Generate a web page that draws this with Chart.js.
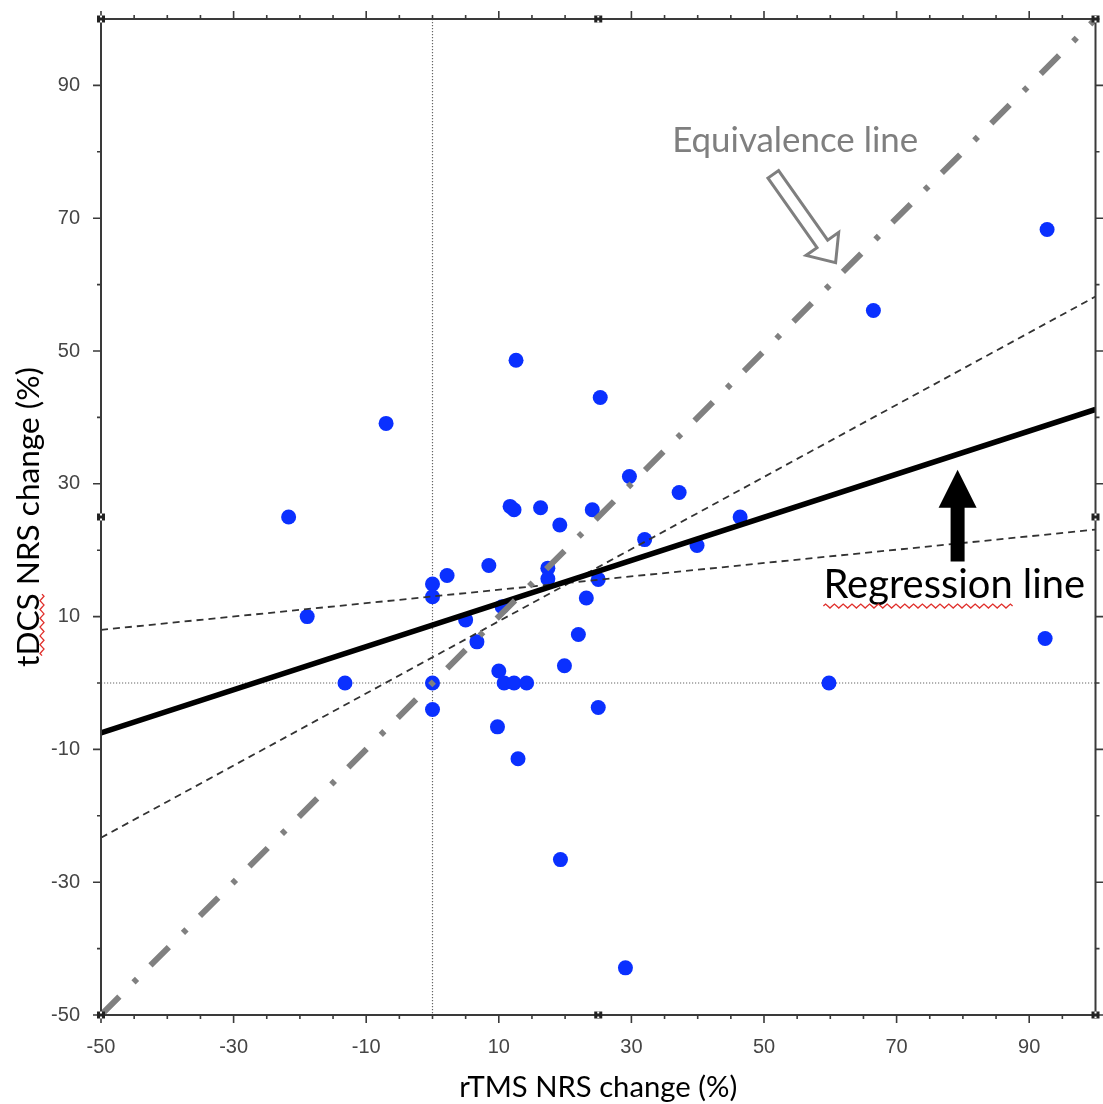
<!DOCTYPE html>
<html>
<head>
<meta charset="utf-8">
<script src="https://cdn.jsdelivr.net/npm/chart.js@4.4.1/dist/chart.umd.min.js"></script>
<style>
  html, body { margin: 0; padding: 0; background: #fff; }
  #wrap { width: 1103px; height: 1104px; }
</style>
</head>
<body>
<div id="wrap"><canvas id="chart"></canvas></div>
<script>
// per-patient NRS change (%)
const rtmsChange = [92.7, 66.5, 12.6, 25.3, -7.0, 29.7, 37.2, 11.7, 12.3, 16.3, 24.1, 19.2,
    -21.7, 46.4, 32.0, 39.9, 8.5, 17.4, 17.4, 25.0, 2.2, 0, 0, 23.2, -18.9, 10.5, 5.0,
    6.7, 22.0, 19.9, 10.0, 10.8, 12.3, 14.2, 0, -13.2, 59.8, 0, 25.0, 9.8, 12.9, 19.3,
    29.1, 92.4];
const tdcsChange = [68.3, 56.1, 48.6, 43.0, 39.1, 31.1, 28.7, 26.6, 26.1, 26.4, 26.1, 23.8,
    25.0, 25.0, 21.6, 20.7, 17.7, 17.3, 15.7, 15.6, 16.2, 14.9, 13.0, 12.8, 10.0, 11.5, 9.5,
    6.2, 7.3, 2.6, 1.8, 0, 0, 0, 0, 0, 0, -4.0, -3.7, -6.6, -11.4, -26.6,
    -42.9, 6.7];

const xTickLabels = [-50, -30, -10, 10, 30, 50, 70, 90];
const yTickLabels = [-50, -30, -10, 10, 30, 50, 70, 90];

// reference lines, end points at the plot edges
const lineX = [-50, 100];
const equivalenceY = [-50, 100];
const regressionY = [-7.5, 41.2];
const bandFlatY = [8.0, 23.1];
const bandSteepY = [-23.3, 58.2];

const titleFont = 'Lato, "Open Sans", sans-serif';
const tickFont = '"Liberation Sans", Arial, sans-serif';

function fitSize(text, width, family) {
    const c = document.createElement('canvas').getContext('2d');
    c.font = `100px ${family}`;
    return 100 * width / c.measureText(text).width;
}

const xTitle = 'rTMS NRS change (%)';
const yTitle = 'tDCS NRS change (%)';
const xTitleSize = fitSize(xTitle, 278, titleFont);
const yTitleSize = fitSize(yTitle, 300, titleFont);

function toPoints(xs, ys) {
    return xs.map((v, i) => ({ x: v, y: ys[i] }));
}

function lineSet(ys, color, width, dash, order) {
    return {
        data: toPoints(lineX, ys),
        showLine: true,
        borderColor: color,
        borderWidth: width,
        borderDash: dash,
        borderCapStyle: 'butt',
        pointRadius: 0,
        order: order
    };
}

function arrowPath(ctx, tail, tip, shaftHalf, headHalf, headLen) {
    const dx = tip.x - tail.x, dy = tip.y - tail.y;
    const len = Math.hypot(dx, dy);
    const ux = dx / len, uy = dy / len;
    const nx = -uy, ny = ux;
    const bx = tip.x - ux * headLen, by = tip.y - uy * headLen;
    ctx.beginPath();
    ctx.moveTo(tail.x + nx * shaftHalf, tail.y + ny * shaftHalf);
    ctx.lineTo(bx + nx * shaftHalf, by + ny * shaftHalf);
    ctx.lineTo(bx + nx * headHalf, by + ny * headHalf);
    ctx.lineTo(tip.x, tip.y);
    ctx.lineTo(bx - nx * headHalf, by - ny * headHalf);
    ctx.lineTo(bx - nx * shaftHalf, by - ny * shaftHalf);
    ctx.lineTo(tail.x - nx * shaftHalf, tail.y - ny * shaftHalf);
    ctx.closePath();
}

// spell-check squiggle
function squiggle(ctx, x1, y1, x2, y2) {
    const len = Math.hypot(x2 - x1, y2 - y1);
    const ux = (x2 - x1) / len, uy = (y2 - y1) / len;
    ctx.save();
    ctx.strokeStyle = '#e0302c';
    ctx.lineWidth = 1.3;
    ctx.beginPath();
    const step = 2.2;
    for (let s = 0, i = 0; s <= len; s += step, i++) {
        const off = (i % 4 === 1) ? -2 : (i % 4 === 3 ? 2 : 0);
        const px = x1 + ux * s - uy * off, py = y1 + uy * s + ux * off;
        if (i === 0) ctx.moveTo(px, py); else ctx.lineTo(px, py);
    }
    ctx.stroke();
    ctx.restore();
}

const decorations = {
    id: 'decorations',
    beforeDatasetsDraw(chart) {
        const { ctx, chartArea: a, scales: { x, y } } = chart;
        const x0 = x.getPixelForValue(0), y0 = y.getPixelForValue(0);
        ctx.save();
        ctx.strokeStyle = '#666';
        ctx.lineWidth = 1.2;
        ctx.setLineDash([1.2, 1.8]);
        ctx.beginPath();
        ctx.moveTo(x0, a.top); ctx.lineTo(x0, a.bottom);
        ctx.moveTo(a.left, y0); ctx.lineTo(a.right, y0);
        ctx.stroke();
        ctx.restore();
    },
    afterDraw(chart) {
        const { ctx, chartArea: a, scales: { x, y } } = chart;
        ctx.save();

        // frame
        ctx.strokeStyle = '#3a3a3a';
        ctx.lineWidth = 2;
        ctx.strokeRect(a.left, a.top, a.right - a.left, a.bottom - a.top);

        // tick marks on all four sides, long ones at the labelled values
        ctx.lineWidth = 1.6;
        ctx.beginPath();
        for (let v = -50; v <= 100; v += 5) {
            const px = x.getPixelForValue(v);
            const len = xTickLabels.includes(v) ? 8 : 4;
            ctx.moveTo(px, a.bottom); ctx.lineTo(px, a.bottom + len);
            ctx.moveTo(px, a.top); ctx.lineTo(px, a.top - len);
        }
        for (let v = -50; v <= 100; v += 10) {
            const py = y.getPixelForValue(v);
            const len = yTickLabels.includes(v) ? 8 : 4;
            ctx.moveTo(a.left, py); ctx.lineTo(a.left - len, py);
            ctx.moveTo(a.right, py); ctx.lineTo(a.right + len, py);
        }
        ctx.stroke();

        // little selection handles
        const cx = (a.left + a.right) / 2, cy = (a.top + a.bottom) / 2;
        const handles = [[a.left, a.top], [cx, a.top], [a.right, a.top], [a.left, cy],
            [a.right, cy], [a.left, a.bottom], [cx, a.bottom], [a.right, a.bottom]];
        handles.forEach(([hx, hy]) => {
            ctx.fillStyle = '#222';
            ctx.fillRect(hx - 4, hy - 3.5, 8, 7);
            ctx.fillStyle = '#fff';
            ctx.fillRect(hx - 1, hy - 3.5, 2, 2);
            ctx.fillRect(hx - 1, hy + 1.5, 2, 2);
        });

        // Equivalence line label + hollow arrow
        const eqText = 'Equivalence line';
        ctx.font = `${fitSize(eqText, 246, titleFont).toFixed(1)}px ${titleFont}`;
        ctx.fillStyle = '#7f7f7f';
        ctx.textAlign = 'center';
        ctx.textBaseline = 'alphabetic';
        ctx.fillText(eqText, x.getPixelForValue(54.7), y.getPixelForValue(80.0));

        const hTail = { x: x.getPixelForValue(51.4), y: y.getPixelForValue(76.6) };
        const hTip = { x: x.getPixelForValue(60.8), y: y.getPixelForValue(63.3) };
        arrowPath(ctx, hTail, hTip, 6.5, 20, 23);
        ctx.fillStyle = '#fff';
        ctx.fill();
        ctx.strokeStyle = '#7f7f7f';
        ctx.lineWidth = 3;
        ctx.lineJoin = 'miter';
        ctx.stroke();

        // Regression line label + solid arrow
        const sTail = { x: x.getPixelForValue(79.2), y: y.getPixelForValue(18.3) };
        const sTip = { x: x.getPixelForValue(79.2), y: y.getPixelForValue(32.1) };
        arrowPath(ctx, sTail, sTip, 7, 19, 38);
        ctx.fillStyle = '#000';
        ctx.fill();

        const regText = 'Regression line';
        ctx.font = `${fitSize(regText, 262, titleFont).toFixed(1)}px ${titleFont}`;
        const regX = x.getPixelForValue(78.7), regY = y.getPixelForValue(12.8);
        ctx.fillText(regText, regX, regY);
        const regW = ctx.measureText(regText).width;
        const wordW = ctx.measureText('Regression').width;
        squiggle(ctx, regX - regW / 2, regY + 8, regX - regW / 2 + wordW, regY + 8);

        // squiggle under "DCS" of the y title
        ctx.font = `${yTitleSize.toFixed(1)}px ${titleFont}`;
        const yw = ctx.measureText(yTitle).width;
        const tw = ctx.measureText('t').width;
        const dw = ctx.measureText('DCS').width;
        const startY = cy + yw / 2 - tw;
        squiggle(ctx, 42, startY, 42, startY - dw);

        ctx.restore();
    }
};

new Chart(document.getElementById('chart'), {
    type: 'scatter',
    data: {
        datasets: [
            lineSet(equivalenceY, '#808080', 6, [26, 20, 5, 19], 1),
            lineSet(regressionY, '#000', 5.5, [], 2),
            lineSet(bandFlatY, '#333', 1.8, [7, 5], 3),
            lineSet(bandSteepY, '#333', 1.8, [7, 5], 3),
            {
                data: toPoints(rtmsChange, tdcsChange),
                backgroundColor: '#0a30ff',
                borderWidth: 0,
                pointRadius: 7.5,
                order: 10
            }
        ]
    },
    options: {
        responsive: true,
        maintainAspectRatio: false,
        animation: false,
        layout: { padding: { top: 19, right: 4, left: 0, bottom: 0 } },
        plugins: {
            legend: { display: false },
            tooltip: { enabled: false }
        },
        scales: {
            x: {
                type: 'linear',
                min: -50,
                max: 100,
                afterFit: s => { s.height = 89; s.paddingLeft = 0; s.paddingRight = 0; },
                afterBuildTicks: s => { s.ticks = xTickLabels.map(v => ({ value: v })); },
                grid: { display: false, drawTicks: false },
                border: { display: false },
                ticks: {
                    padding: 20,
                    maxRotation: 0,
                    autoSkip: false,
                    color: '#454545',
                    font: { family: tickFont, size: 20 }
                },
                title: {
                    display: true,
                    text: xTitle,
                    color: '#000',
                    padding: { top: 0, bottom: 2 },
                    font: { family: titleFont, size: xTitleSize, lineHeight: 1 }
                }
            },
            y: {
                type: 'linear',
                min: -50,
                max: 100,
                afterFit: s => { s.width = 101; s.paddingTop = 0; s.paddingBottom = 0; },
                afterBuildTicks: s => { s.ticks = yTickLabels.map(v => ({ value: v })); },
                grid: { display: false, drawTicks: false },
                border: { display: false },
                ticks: {
                    padding: 21,
                    autoSkip: false,
                    color: '#454545',
                    font: { family: tickFont, size: 20 }
                },
                title: {
                    display: true,
                    text: yTitle,
                    color: '#000',
                    padding: { top: 13, bottom: 0 },
                    font: { family: titleFont, size: yTitleSize, lineHeight: 1 }
                }
            }
        }
    },
    plugins: [decorations]
});
</script>
</body>
</html>
